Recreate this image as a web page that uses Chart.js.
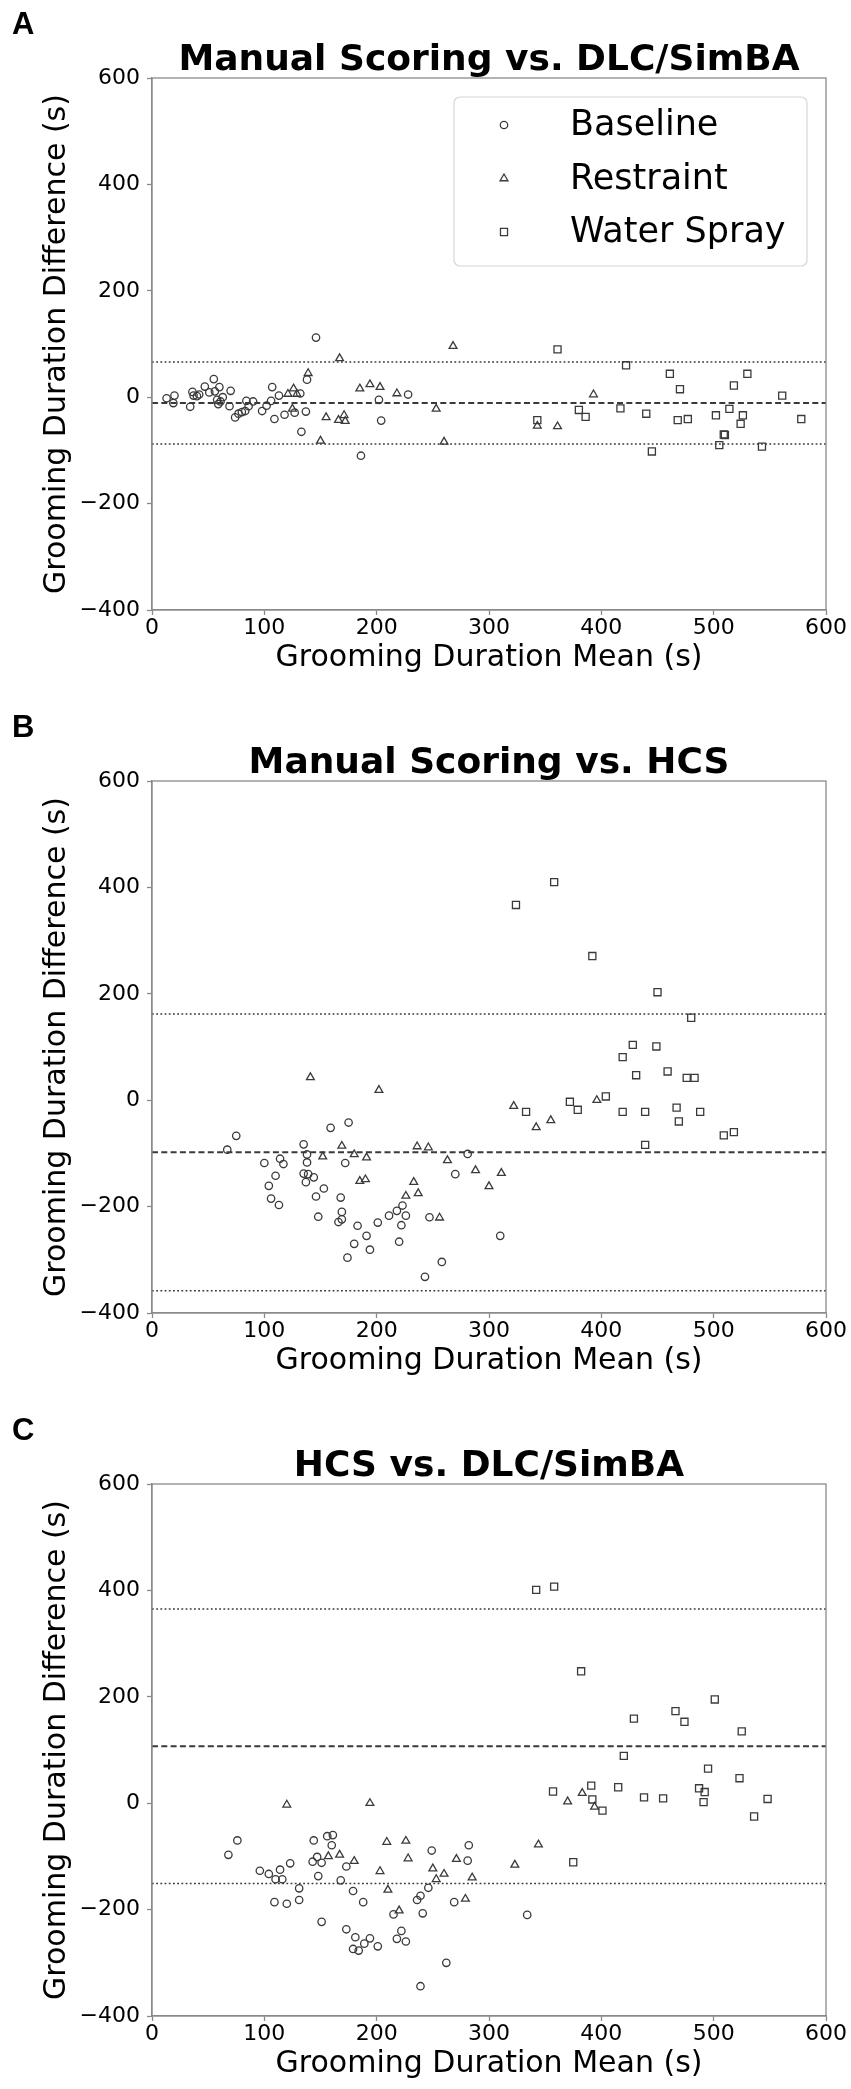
<!DOCTYPE html>
<html>
<head>
<meta charset="utf-8">
<script src="https://cdn.jsdelivr.net/npm/chart.js@4"></script>
<style>
  body { margin:0; background:#fff; }
  .panel { position:absolute; left:0; width:851px; }
</style>
</head>
<body>
<div class="panel" style="top:0"><canvas id="chart-a" width="851" height="703"></canvas></div>
<div class="panel" style="top:703px"><canvas id="chart-b" width="851" height="703"></canvas></div>
<div class="panel" style="top:1406px"><canvas id="chart-c" width="851" height="683"></canvas></div>
<script>
// ============================================================
// DATA  (mean, difference) pairs
// ============================================================

const xTicks = [0, 100, 200, 300, 400, 500, 600];
const yTicks = [-400, -200, 0, 200, 400, 600];
const groups = ['Baseline', 'Restraint', 'Water Spray'];
const panelLetters = ['A', 'B', 'C'];
const panelTitles = ['Manual Scoring vs. DLC/SimBA', 'Manual Scoring vs. HCS', 'HCS vs. DLC/SimBA'];

// Panel A
const baselineA = [[13,-2],[20,3],[19,-11],[34,-18],[36,10],[37,3],[40,2],[42,5],[47,20],[51,9],[55,34],[56,11],[60,19],[58,-5],[59,-13],[61,-8],[63,0],[70,12],[69,-17],[74,-38],[77,-31],[80,-28],[83,-26],[84,-7],[86,-17],[90,-8],[98,-26],[102,-16],[106,-7],[107,19],[109,-41],[113,3],[118,-33],[127,-29],[132,7],[133,-65],[137,-27],[138,33],[146,112],[186,-110],[202,-5],[204,-44],[228,5]];
const restraintA = [[121,6],[126,16],[129,6],[125,-22],[139,45],[150,-82],[155,-38],[166,-43],[171,-34],[172,-45],[167,73],[185,16],[194,24],[203,19],[218,7],[253,-22],[260,-84],[268,96],[343,-54],[361,-55],[393,5]];
const sprayA = [[361,90],[422,60],[461,44],[470,15],[530,44],[518,22],[561,3],[380,-24],[386,-37],[417,-21],[440,-31],[468,-43],[477,-41],[502,-34],[514,-22],[526,-34],[524,-50],[578,-41],[343,-43],[509,-70],[510,-71],[505,-90],[543,-93],[445,-102]];
const limitsA = { mean: -11, upper: 66, lower: -88 };

// Panel B
const baselineB = [[67,-93],[75,-67],[100,-118],[114,-110],[117,-120],[110,-142],[104,-161],[106,-185],[113,-197],[135,-83],[138,-102],[138,-117],[135,-138],[139,-139],[137,-154],[144,-145],[146,-181],[153,-166],[159,-52],[175,-42],[172,-118],[168,-183],[169,-210],[169,-224],[166,-229],[148,-219],[183,-236],[201,-230],[211,-217],[218,-208],[223,-198],[226,-217],[222,-235],[247,-220],[270,-139],[281,-101],[180,-270],[174,-296],[194,-281],[191,-255],[220,-266],[243,-332],[258,-304],[310,-255]];
const restraintB = [[141,43],[202,19],[152,-106],[169,-86],[180,-102],[191,-108],[185,-152],[190,-149],[236,-87],[246,-89],[263,-113],[288,-132],[233,-154],[226,-180],[237,-175],[256,-221],[300,-162],[311,-137],[322,-11],[342,-51],[355,-38],[396,0]];
const sprayB = [[324,367],[358,410],[392,271],[450,203],[480,155],[428,104],[449,101],[419,81],[431,47],[459,54],[476,42],[483,42],[372,-3],[404,7],[333,-22],[379,-18],[419,-22],[439,-22],[488,-22],[467,-14],[469,-40],[439,-84],[509,-66],[518,-60]];
const limitsB = { mean: -98, upper: 162, lower: -358 };

// Panel C
const baselineC = [[68,-97],[76,-70],[96,-127],[104,-133],[114,-125],[110,-143],[116,-143],[123,-113],[131,-160],[144,-70],[147,-101],[143,-110],[148,-137],[151,-112],[156,-62],[161,-60],[160,-79],[173,-119],[168,-145],[179,-165],[249,-89],[282,-79],[281,-108],[236,-182],[239,-174],[241,-207],[246,-159],[109,-186],[120,-189],[131,-182],[173,-237],[151,-223],[188,-186],[181,-252],[179,-274],[184,-277],[189,-264],[194,-254],[201,-269],[215,-209],[218,-255],[222,-240],[226,-260],[262,-300],[239,-344],[269,-186],[334,-210]];
const restraintC = [[120,-3],[194,0],[209,-73],[226,-71],[228,-104],[203,-128],[210,-163],[157,-100],[167,-97],[180,-109],[250,-123],[253,-143],[260,-133],[271,-105],[285,-140],[279,-180],[220,-202],[323,-116],[344,-78],[370,3],[383,19],[394,-7]];
const sprayC = [[342,401],[358,407],[382,248],[429,159],[466,173],[474,153],[501,195],[525,135],[420,89],[495,65],[523,47],[357,22],[391,33],[415,30],[392,7],[438,11],[455,9],[401,-14],[487,28],[492,21],[491,2],[548,8],[536,-25],[375,-111]];
const limitsC = { mean: 107, upper: 365, lower: -151 };

// ============================================================
// STYLE
// ============================================================

const INK = '#3a3a3a';
const SPINE = '#8a8a8a';
const markerStyles = [
  { pointStyle: 'circle', radius: 3.7 },
  { pointStyle: 'triangle', radius: 4.5 },
  { pointStyle: 'rect', radius: 5 },
];

const toPts = arr => arr.map(p => ({ x: p[0], y: p[1] }));

function refLine(y, dash, width) {
  return {
    data: [{ x: xTicks[0], y }, { x: xTicks[xTicks.length - 1], y }],
    showLine: true, pointRadius: 0, borderColor: INK, borderWidth: width,
    borderDash: dash, fill: false,
  };
}

// frame, panel letter, title and (for A) legend
const decorPlugin = {
  id: 'decor',
  afterDraw(chart, args, opts) {
    const { ctx, chartArea: a } = chart;
    ctx.save();
    ctx.strokeStyle = SPINE; ctx.lineWidth = 1.3;
    ctx.strokeRect(a.left, a.top, a.right - a.left, a.bottom - a.top);

    ctx.fillStyle = '#000';
    ctx.textBaseline = 'alphabetic';
    ctx.textAlign = 'left';
    ctx.font = 'bold 31px "Liberation Sans", Arial, sans-serif';
    ctx.fillText(opts.letter, 12, 34);

    ctx.textAlign = 'center';
    ctx.font = 'bold 36px "DejaVu Sans", sans-serif';
    ctx.fillText(opts.title, (a.left + a.right) / 2, 70);

    if (opts.legend) {
      const bx = a.right - 372, by = a.top + 19, bw = 353, bh = 169;
      ctx.fillStyle = 'rgba(255,255,255,0.85)';
      ctx.strokeStyle = '#d6d6d6'; ctx.lineWidth = 1.2;
      ctx.beginPath();
      ctx.roundRect(bx, by, bw, bh, 6);
      ctx.fill(); ctx.stroke();
      ctx.font = '35px "DejaVu Sans", sans-serif';
      ctx.textAlign = 'left'; ctx.textBaseline = 'middle';
      groups.forEach((g, i) => {
        const y = by + 28 + i * 53.5;
        ctx.strokeStyle = INK; ctx.fillStyle = 'rgba(0,0,0,0)'; ctx.lineWidth = 1.3;
        Chart.helpers.drawPoint(ctx, { pointStyle: markerStyles[i].pointStyle, radius: markerStyles[i].radius, rotation: 0, borderWidth: 1.3 }, bx + 50, y);
        ctx.fillStyle = '#000';
        ctx.fillText(g, bx + 116, y + 1);
      });
    }
    ctx.restore();
  }
};

function renderPanel(id, idx, series, limits, bottomPad, showLegend) {
  const datasets = series.map((s, i) => ({
    label: groups[i],
    data: toPts(s),
    pointStyle: markerStyles[i].pointStyle,
    pointRadius: markerStyles[i].radius,
    pointBackgroundColor: 'rgba(0,0,0,0)',
    pointBorderColor: INK,
    pointBorderWidth: 1.3,
  }));
  datasets.push(refLine(limits.mean, [6, 3.3], 2));
  datasets.push(refLine(limits.upper, [1.8, 2.4], 1.5));
  datasets.push(refLine(limits.lower, [1.8, 2.4], 1.5));

  const tickFont = { family: 'DejaVu Sans', size: 22 };
  const titleFont = { family: 'DejaVu Sans', size: 30 };

  return new Chart(document.getElementById(id), {
    type: 'scatter',
    data: { datasets },
    options: {
      responsive: false, animation: false, devicePixelRatio: 1,
      layout: { padding: { top: 78, left: 35, right: 25, bottom: bottomPad } },
      plugins: {
        legend: { display: false }, tooltip: { enabled: false },
        decor: { letter: panelLetters[idx], title: panelTitles[idx], legend: showLegend },
      },
      scales: {
        x: {
          type: 'linear', min: xTicks[0], max: xTicks[xTicks.length - 1],
          afterBuildTicks: s => { s.ticks = xTicks.map(v => ({ value: v })); },
          ticks: { font: tickFont, color: '#000', padding: 0, maxRotation: 0 },
          grid: { drawOnChartArea: false, tickLength: 5, color: SPINE, tickWidth: 1.3 },
          border: { color: SPINE, width: 1.3 },
          title: { display: true, text: 'Grooming Duration Mean (s)', font: titleFont, color: '#000', padding: { top: 0, bottom: 4 } },
          afterFit: s => { s.height = 70; },
        },
        y: {
          type: 'linear', min: yTicks[0], max: yTicks[yTicks.length - 1],
          afterBuildTicks: s => { s.ticks = yTicks.map(v => ({ value: v })); },
          ticks: { font: tickFont, color: '#000', padding: 7, callback: v => String(v).replace('-', '\u2212') },
          grid: { drawOnChartArea: false, tickLength: 5, color: SPINE, tickWidth: 1.3 },
          border: { color: SPINE, width: 1.3 },
          title: { display: true, text: 'Grooming Duration Difference (s)', font: titleFont, color: '#000', padding: { top: 4, bottom: 0 } },
          afterFit: s => { s.width = 117; },
        },
      },
    },
    plugins: [decorPlugin],
  });
}

renderPanel('chart-a', 0, [baselineA, restraintA, sprayA], limitsA, 23, true);
renderPanel('chart-b', 1, [baselineB, restraintB, sprayB], limitsB, 23, false);
renderPanel('chart-c', 2, [baselineC, restraintC, sprayC], limitsC, 3, false);
</script>
</body>
</html>
